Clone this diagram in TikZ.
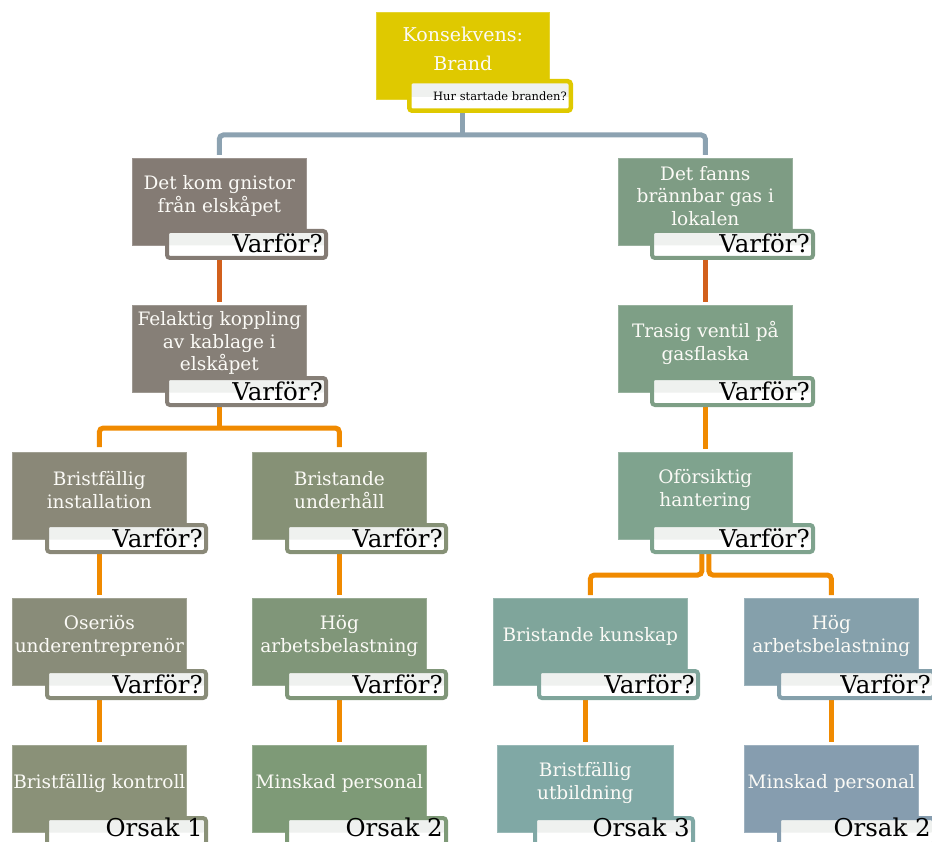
\documentclass[tikz,border=0pt]{standalone}
\usepackage{fontspec}
\setmainfont{DejaVu Serif}
\usetikzlibrary{calc}
\pgfdeclarelayer{bg}
\pgfsetlayers{bg,main}
\definecolor{cTop}{HTML}{DFC900}
\definecolor{cA}{HTML}{847B74}
\definecolor{cB}{HTML}{867F77}
\definecolor{cC}{HTML}{8A8878}
\definecolor{cD}{HTML}{869176}
\definecolor{cE}{HTML}{898C79}
\definecolor{cF}{HTML}{809679}
\definecolor{cG}{HTML}{8A9178}
\definecolor{cH}{HTML}{7E9A77}
\definecolor{cI}{HTML}{7E9C84}
\definecolor{cJ}{HTML}{7E9F86}
\definecolor{cK}{HTML}{7FA38E}
\definecolor{cL}{HTML}{7FA59B}
\definecolor{cM}{HTML}{80A8A5}
\definecolor{cN}{HTML}{85A0AB}
\definecolor{cO}{HTML}{869DAF}
\definecolor{lnBlue}{HTML}{8CA2B1}
\definecolor{lnRed}{HTML}{D2601C}
\definecolor{lnOr}{HTML}{F08A00}
\definecolor{labgray}{HTML}{EFF1EF}
\definecolor{txtwhite}{HTML}{FBFAF6}
\tikzset{
  mainbox/.style={draw=#1!80!white, line width=0.7pt, fill=#1, anchor=north west,
    inner sep=0pt, minimum height=87pt},
  maintext/.style={text=txtwhite, align=center, font=\fontsize{18.5}{22.5}\selectfont, inner sep=0pt},
  labbox/.style={draw=#1, line width=4pt, rounded corners=3pt, fill=white, anchor=north west,
    minimum height=27pt, inner sep=0pt,
    path picture={\fill[labgray] (path picture bounding box.north west) rectangle
      ($(path picture bounding box.east)+(0,1)$);}},
  labtext/.style={anchor=base east, inner sep=0pt, font=\fontsize{24.5}{26}\selectfont, text=black},
  conn/.style={line width=5pt, rounded corners=4pt},
}
\def\labbase{24}
% #1 name, #2 x, #3 y, #4 box width, #5 colour, #6 text, #7 label text, #8 label x, #9 label width
\newcommand\cnode[9]{%
  \node[mainbox=#5, minimum width=#4pt] (m#1) at (#2,#3) {};
  \node[maintext] (t#1) at ($(m#1.north)+(0,38)$) {#6};
  \node[labbox=#5, minimum width=#9pt] (l#1) at (#8,#3+71) {};
  \node[labtext] (x#1) at ($(l#1.north east)+(-5,\labbase)$) {#7};
}
\begin{document}
\begin{tikzpicture}[x=1pt,y=-1pt]
\useasboundingbox (0,0) rectangle (932,842);
% top node
\node[mainbox=cTop, minimum width=173pt] (mtop) at (376,12) {};
\node[maintext, font=\fontsize{19}{29}\selectfont] (ttop) at ($(mtop.north)+(0,36.5)$) {Konsekvens:\\Brand};
\node[labbox=cTop, line width=4.5pt, minimum width=161.5pt, minimum height=29.5pt] (ltop) at (407,79) {};
\node[labtext, font=\fontsize{11.5}{13}\selectfont] (xtop) at ($(ltop.north east)+(-6,22)$) {Hur startade branden?};
% causes
\cnode{1L}{132}{158}{174}{cA}{Det kom gnistor\\från elskåpet}{Varför?}{165}{159}
\cnode{1R}{618}{158}{174}{cI}{Det fanns\\brännbar gas i\\lokalen}{Varför?}{650}{161}
\cnode{2L}{132}{305}{174}{cB}{Felaktig koppling\\av kablage i\\elskåpet}{Varför?}{165}{159}
\cnode{2R}{618}{305}{174}{cJ}{Trasig ventil på\\gasflaska}{Varför?}{650}{161}
\cnode{3a}{12}{452}{174}{cC}{Bristfällig\\installation}{Varför?}{45}{159}
\cnode{3b}{252}{452}{174}{cD}{Bristande\\underhåll}{Varför?}{285}{159}
\cnode{3R}{618}{452}{174}{cK}{Oförsiktig\\hantering}{Varför?}{650}{161}
\cnode{4a}{12}{598}{174}{cE}{Oseriös\\underentreprenör}{Varför?}{45}{159}
\cnode{4b}{252}{598}{174}{cF}{Hög\\arbetsbelastning}{Varför?}{285}{159}
\cnode{4c}{493}{598}{194}{cL}{Bristande kunskap}{Varför?}{537}{159}
\cnode{4d}{744}{598}{174}{cN}{Hög\\arbetsbelastning}{Varför?}{777}{155}
\def\labbase{20}
\cnode{5a}{12}{745}{174}{cG}{Bristfällig kontroll}{Orsak 1}{45}{159}
\cnode{5b}{252}{745}{174}{cH}{Minskad personal}{Orsak 2}{285}{159}
\cnode{5c}{497}{745}{176}{cM}{Bristfällig\\utbildning}{Orsak 3}{533}{158}
\cnode{5d}{744}{745}{174}{cO}{Minskad personal}{Orsak 2}{777}{155}
% connectors
\begin{pgfonlayer}{bg}
\coordinate (j0) at ($(mtop.center |- ltop.south)+(0,22)$);
\draw[conn, lnBlue] (mtop.center |- ltop.south) -- (j0);
\draw[conn, lnBlue, shorten <=3pt, shorten >=3pt] (m1L.north) |- (j0) -| (m1R.north);
\draw[conn, lnRed, shorten >=3pt] (m1L.center |- l1L.south) -- (m2L.north);
\draw[conn, lnRed, shorten >=3pt] (m1R.center |- l1R.south) -- (m2R.north);
\coordinate (j2) at ($(m2L.center |- l2L.south)+(0,21)$);
\draw[conn, lnOr] (m2L.center |- l2L.south) -- (j2);
\draw[conn, lnOr, shorten <=5pt, shorten >=5pt] (m3a.north) |- (j2) -| (m3b.north);
\draw[conn, lnOr, shorten >=3pt] (m2R.center |- l2R.south) -- (m3R.north);
\draw[conn, lnOr, shorten >=3pt] (m3a.center |- l3a.south) -- (m4a.north);
\draw[conn, lnOr, shorten >=3pt] (m3b.center |- l3b.south) -- (m4b.north);
\coordinate (j3) at ($(m3R.center |- l3R.south)+(0,21)$);
\draw[conn, lnOr, shorten >=3pt] ($(m3R.center |- l3R.south)+(-3.5,0)$) -- ($(j3)+(-3.5,0)$) -| (m4c.north);
\draw[conn, lnOr, shorten >=3pt] ($(m3R.center |- l3R.south)+(3.5,0)$) -- ($(j3)+(3.5,0)$) -| (m4d.north);
\draw[conn, lnOr, shorten >=3pt] (m4a.center |- l4a.south) -- (m5a.north);
\draw[conn, lnOr, shorten >=3pt] (m4b.center |- l4b.south) -- (m5b.north);
\draw[conn, lnOr, shorten >=3pt] (m5c.north |- l4c.south) -- (m5c.north);
\draw[conn, lnOr, shorten >=3pt] (m4d.center |- l4d.south) -- (m5d.north);
\end{pgfonlayer}
\end{tikzpicture}
\end{document}
